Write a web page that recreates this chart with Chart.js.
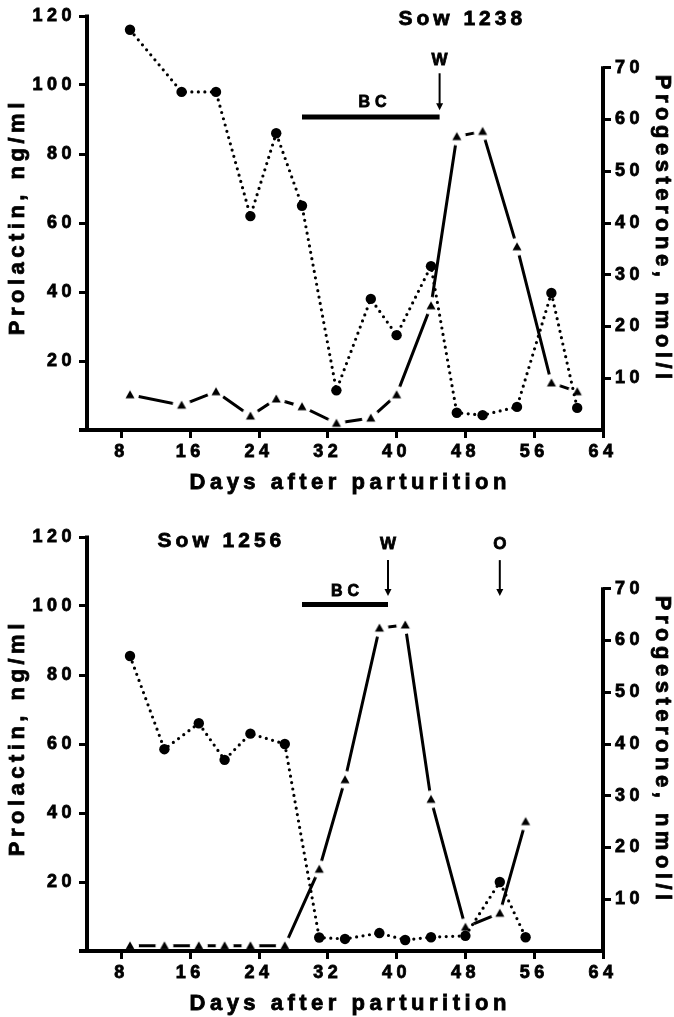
<!DOCTYPE html>
<html>
<head>
<meta charset="utf-8">
<script src="https://cdn.jsdelivr.net/npm/chart.js@4.4.0/dist/chart.umd.min.js"></script>
<style>
  html, body { margin: 0; padding: 0; background: #fff; overflow: hidden; }
  .panel { position: absolute; left: 0; width: 674px; height: 521px; }
</style>
</head>
<body>
<div class="panel" style="top:0"><canvas id="sow1238" width="674" height="521"></canvas></div>
<div class="panel" style="top:521px"><canvas id="sow1256" width="674" height="521"></canvas></div>
<script>
'use strict';

// tick labels
var dayTicks = [8, 16, 24, 32, 40, 48, 56, 64];
var prlTicks = [20, 40, 60, 80, 100, 120];
var progTicks = [10, 20, 30, 40, 50, 60, 70];

// Sow 1238
var days1238 = [9, 15, 19, 23, 26, 29, 33, 37, 40, 44, 47, 50, 54, 58, 61];
var prl1238 = [116, 98, 98, 62, 86, 65, 11.5, 38, 27.5, 47.5, 5, 4.3, 6.7, 39.7, 6.4];
var prog1238 = [6.8, 4.8, 7.4, 2.7, 6.0, 4.5, 1.3, 2.3, 6.8, 24, 56.7, 57.7, 35.4, 9.1, 7.4];
var bc1238 = [29, 45];
var wean1238 = 45;

// Sow 1256
var days1256 = [9, 13, 17, 20, 23, 27, 31, 34, 38, 41, 44, 48, 52, 55];
var prl1256 = [85.5, 58.5, 66, 55.4, 63, 60, 3.9, 3.5, 5.2, 3.2, 4, 4.4, 20, 4];
var prog1256 = [1, 1, 1, 1, 1, 1, 15.8, 33.1, 62.4, 63, 29.3, 4.6, 7.3, 25];
var bc1256 = [29, 39];
var wean1256 = 39;
var ovul1256 = 52;

var FONT = '"Liberation Sans", Arial, sans-serif';
Chart.defaults.font.family = FONT;
Chart.defaults.font.weight = 'bold';
Chart.defaults.color = '#000';

//black triangle with a white halo, so the line breaks near each marker
function haloTriangle() {
   var c = document.createElement('canvas');
   c.width = 22; c.height = 22;
   var g = c.getContext('2d');
   g.fillStyle = '#fff';
   g.beginPath(); g.arc(11, 11, 9, 0, 2 * Math.PI); g.fill();
   g.fillStyle = '#000';
   g.beginPath(); g.moveTo(11, 6.5); g.lineTo(15.5, 14.5); g.lineTo(6.5, 14.5); g.closePath(); g.fill();
   return c;
}
var triangle = haloTriangle();

function series(days, values) {
   return days.map(function (d, i) { return {x: d, y: values[i]}; });
}

function tickList(values) {
   return function (scale) {
      scale.ticks = values.map(function (v) { return {value: v}; });
   };
}

// canvas text is letter spaced like the print
var spacing = {
   id: 'spacing',
   beforeLayout: function (chart) { chart.ctx.letterSpacing = '4.5px'; },
   beforeDraw: function (chart) { chart.ctx.letterSpacing = '4.5px'; }
};

function heavyText(ctx, text, x, y, size, gap, rot) {
   ctx.save();
   ctx.translate(x, y);
   if (rot) ctx.rotate(rot);
   ctx.font = 'bold ' + size + 'px ' + FONT;
   ctx.letterSpacing = gap + 'px';
   ctx.textAlign = 'center';
   ctx.textBaseline = 'middle';
   ctx.lineWidth = 0.8;
   ctx.fillText(text, gap / 2, 0);
   ctx.strokeText(text, gap / 2, 0);
   ctx.restore();
}

// axis lines, axis titles, BC bar, arrows and labels
var sowMarks = {
   id: 'sowMarks',
   afterDraw: function (chart, args, opts) {
      var ctx = chart.ctx, xs = chart.scales.x, ys = chart.scales.y, y2 = chart.scales.y2, a = chart.chartArea;
      function px(d) { return xs.getPixelForValue(d); }
      function py(v) { return ys.getPixelForValue(v); }
      ctx.save();
      ctx.strokeStyle = '#000';
      ctx.fillStyle = '#000';
      ctx.lineCap = 'butt';

      ctx.lineWidth = 4;
      ctx.beginPath();
      ctx.moveTo(a.left, py(120) - 1.5); ctx.lineTo(a.left, a.bottom + 2);
      ctx.moveTo(a.left - 8, a.bottom); ctx.lineTo(a.right + 2, a.bottom);
      ctx.moveTo(a.right, a.bottom + 2); ctx.lineTo(a.right, y2.getPixelForValue(70) - 1.5);
      ctx.stroke();

      var midY = (a.top + a.bottom) / 2;
      heavyText(ctx, 'Prolactin, ng/ml', 18, midY - 4, 22, 4.5, -Math.PI / 2);
      heavyText(ctx, 'Progesterone, nmol/l', 662, midY + 4, 22, 4.5, Math.PI / 2);
      heavyText(ctx, 'Days after parturition', (a.left + a.right) / 2 + 3, a.bottom + 53, 22, 4.5, 0);

      ctx.lineWidth = 5;
      ctx.beginPath();
      ctx.moveTo(px(opts.bc[0]), py(opts.barAt));
      ctx.lineTo(px(opts.bc[1]), py(opts.barAt));
      ctx.stroke();

      ctx.lineWidth = 2;
      opts.arrows.forEach(function (d) {
         var x = px(d), y0 = py(opts.arrowFrom), y1 = py(opts.arrowTo);
         ctx.beginPath(); ctx.moveTo(x, y0); ctx.lineTo(x, y1 - 6); ctx.stroke();
         ctx.beginPath();
         ctx.moveTo(x - 3.5, y1 - 7); ctx.lineTo(x + 3.5, y1 - 7); ctx.lineTo(x, y1);
         ctx.closePath(); ctx.fill();
      });

      opts.labels.forEach(function (l) {
         heavyText(ctx, l.text, px(l.day), py(l.at), l.size, l.spacing, 0);
      });
      ctx.restore();
   }
};

var tickFont = { size: 18, weight: 'bold' };
var tickGrid = { drawOnChartArea: false, drawTicks: true, tickLength: 8, tickWidth: 3, tickColor: '#000' };

function makeChart(id, days, prl, prog, marks) {
   var ctx = document.getElementById(id).getContext('2d');
   return new Chart(ctx, {
      type: 'line',
      data: {
         datasets: [{
            label: 'Progesterone',
            data: series(days, prog),
            yAxisID: 'y2',
            order: 2,
            borderColor: '#000',
            borderWidth: 3,
            pointStyle: triangle,
            pointRadius: 5,
            tension: 0,
            clip: false
         }, {
            label: 'Prolactin',
            data: series(days, prl),
            yAxisID: 'y',
            order: 1,
            borderColor: '#000',
            borderWidth: 3.2,
            borderDash: [0, 6.5],
            borderCapStyle: 'round',
            pointStyle: 'circle',
            pointRadius: 5.2,
            pointBorderWidth: 0,
            pointBackgroundColor: '#000',
            tension: 0,
            clip: false
         }]
      },
      options: {
         responsive: false,
         animation: false,
         events: [],
         devicePixelRatio: 1,
         layout: { padding: { top: 16, left: 0, right: 0, bottom: 0 } },
         plugins: {
            legend: { display: false },
            tooltip: { enabled: false },
            sowMarks: marks
         },
         scales: {
            x: {
               type: 'linear', min: 4, max: 64,
               afterBuildTicks: tickList(dayTicks),
               afterFit: function (s) { s.height = 91; },
               border: { display: false },
               grid: tickGrid,
               ticks: { padding: 3, autoSkip: false, maxRotation: 0, font: tickFont, textStrokeColor: '#000', textStrokeWidth: 0.8 }
            },
            y: {
               position: 'left', min: 0, max: 120,
               afterBuildTicks: tickList(prlTicks),
               afterFit: function (s) { s.width = 87; },
               border: { display: false },
               grid: tickGrid,
               ticks: { padding: 3, font: tickFont, textStrokeColor: '#000', textStrokeWidth: 0.8 }
            },
            y2: {
               position: 'right', min: 0, max: 80,
               afterBuildTicks: tickList(progTicks),
               afterFit: function (s) { s.width = 71; },
               border: { display: false },
               grid: tickGrid,
               ticks: { padding: 4, font: tickFont, textStrokeColor: '#000', textStrokeWidth: 0.8 }
            }
         }
      },
      plugins: [spacing, sowMarks]
   });
}

makeChart('sow1238', days1238, prl1238, prog1238, {
   bc: bc1238, barAt: 90.7,
   arrows: [wean1238], arrowFrom: 103.4, arrowTo: 92.7,
   labels: [
      { text: 'Sow 1238', day: 47.4, at: 119, size: 21, spacing: 4 },
      { text: 'BC', day: 37.2, at: 94.8, size: 16, spacing: 5 },
      { text: 'W', day: wean1238, at: 107.2, size: 17, spacing: 0 }
   ]
});

makeChart('sow1256', days1256, prl1256, prog1256, {
   bc: bc1256, barAt: 100.4,
   arrows: [wean1256, ovul1256], arrowFrom: 113.3, arrowTo: 102.9,
   labels: [
      { text: 'Sow 1256', day: 19.4, at: 118.8, size: 21, spacing: 4 },
      { text: 'BC', day: 34.0, at: 104.3, size: 16, spacing: 5 },
      { text: 'W', day: wean1256, at: 117.8, size: 17, spacing: 0 },
      { text: 'O', day: ovul1256, at: 117.8, size: 17, spacing: 0 }
   ]
});
</script>
</body>
</html>
